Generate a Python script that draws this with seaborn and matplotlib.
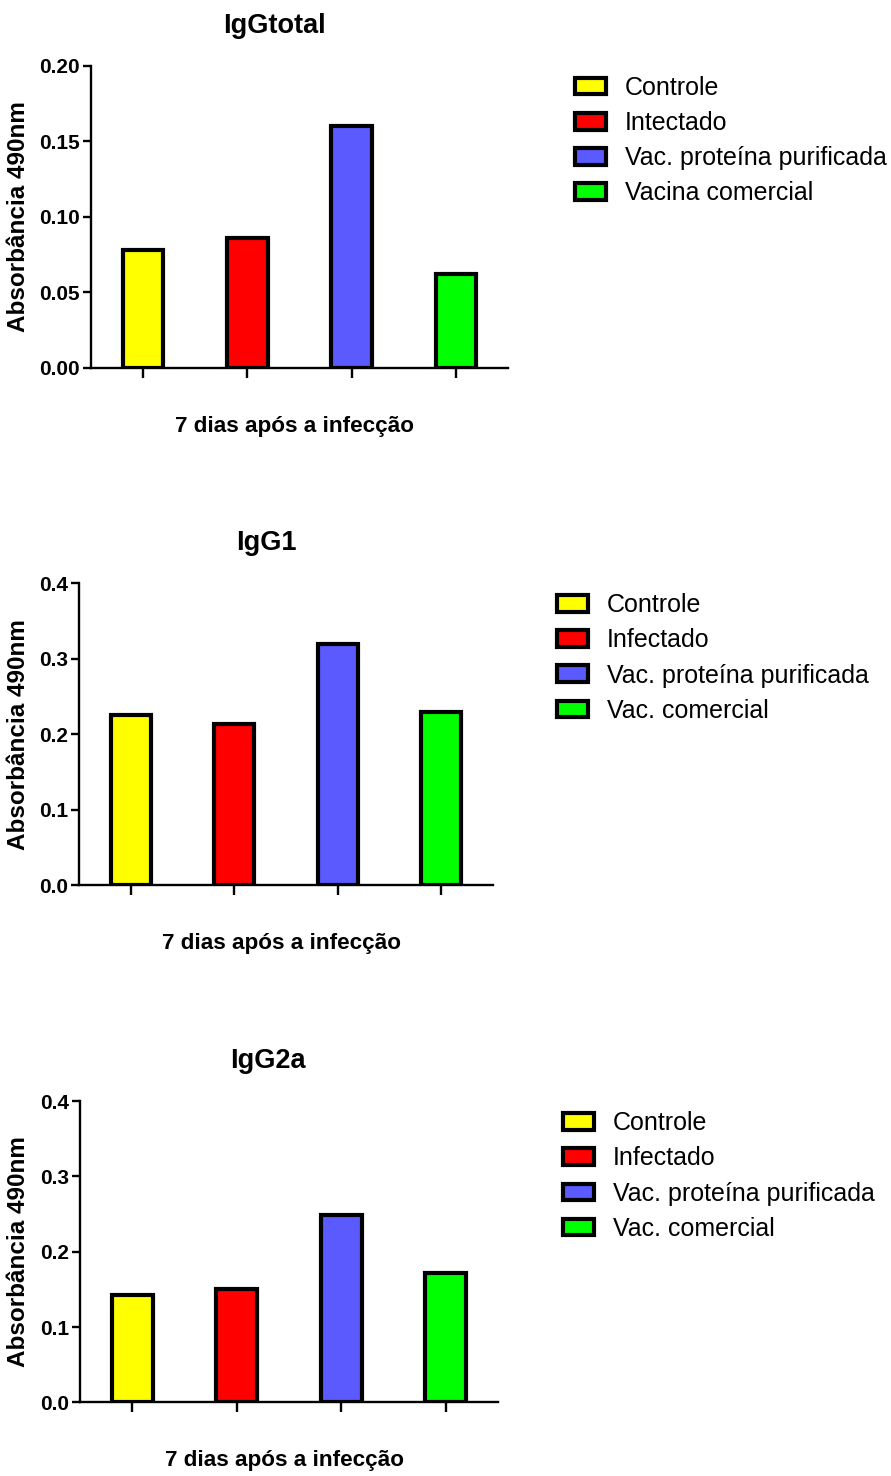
import matplotlib
matplotlib.use("Agg")
import matplotlib.pyplot as plt
from matplotlib.patches import Patch
from matplotlib.ticker import FormatStrFormatter
import pandas as pd
import seaborn as sns

# ---------------------------------------------------------------------------
# Dados
# ---------------------------------------------------------------------------
GRUPOS = ["Controle", "Infectado", "Vac. proteína purificada", "Vac. comercial"]
CORES = ["#FFFF00", "#FF0000", "#5A5AFF", "#00FF00"]

IGG_TOTAL = [0.078, 0.086, 0.160, 0.062]
IGG1 = [0.225, 0.214, 0.320, 0.229]
IGG2A = [0.142, 0.150, 0.249, 0.172]

LEG_IGG_TOTAL = ["Controle", "Intectado", "Vac. proteína purificada", "Vacina comercial"]
LEG_IGG = ["Controle", "Infectado", "Vac. proteína purificada", "Vac. comercial"]

TITULOS = ["IgGtotal", "IgG1", "IgG2a"]
YTICKS_TOTAL = [0.00, 0.05, 0.10, 0.15, 0.20]
YTICKS_SUB = [0.0, 0.1, 0.2, 0.3, 0.4]

# ---------------------------------------------------------------------------
# Estilo
# ---------------------------------------------------------------------------
sns.set_style("ticks")
plt.rcParams["font.family"] = ["Liberation Sans", "DejaVu Sans"]
plt.rcParams["text.color"] = "black"
plt.rcParams["axes.labelcolor"] = "black"
plt.rcParams["xtick.color"] = "black"
plt.rcParams["ytick.color"] = "black"

fig = plt.figure(figsize=(8.91, 14.76), dpi=100)

# posição dos eixos [left, bottom, width, height] e ajustes de texto por painel
paineis = [
    dict(vals=IGG_TOTAL, leg=LEG_IGG_TOTAL, yticks=YTICKS_TOTAL, fmt="%.2f",
         rect=[0.1021, 0.7507, 0.468, 0.2046], tx=0.439, ylx=-0.146,
         leg_xy=(0.645, 0.9487)),
    dict(vals=IGG1, leg=LEG_IGG, yticks=YTICKS_SUB, fmt="%.1f",
         rect=[0.0887, 0.4002, 0.4646, 0.2046], tx=0.452, ylx=-0.118,
         leg_xy=(0.625, 0.5982)),
    dict(vals=IGG2A, leg=LEG_IGG, yticks=YTICKS_SUB, fmt="%.1f",
         rect=[0.0898, 0.0499, 0.469, 0.2041], tx=0.450, ylx=-0.120,
         leg_xy=(0.632, 0.2472)),
]

for titulo, p in zip(TITULOS, paineis):
    ax = fig.add_axes(p["rect"])
    df = pd.DataFrame({"grupo": GRUPOS, "absorbancia": p["vals"]})
    sns.barplot(
        data=df, x="grupo", y="absorbancia", hue="grupo", palette=CORES,
        saturation=1, width=0.39, edgecolor="black", linewidth=3,
        legend=False, ax=ax,
    )
    ax.set_xlim(-0.5, 3.5)
    ax.set_ylim(p["yticks"][0], p["yticks"][-1])
    ax.set_yticks(p["yticks"])
    ax.yaxis.set_major_formatter(FormatStrFormatter(p["fmt"]))
    ax.set_xticks(range(len(GRUPOS)))
    ax.tick_params(axis="x", labelbottom=False, length=7, width=1.7, color="black")
    ax.tick_params(axis="y", length=6, width=1.7, pad=2, labelsize=15, color="black")
    for lab in ax.get_yticklabels():
        lab.set_fontweight("bold")
    sns.despine(ax=ax)
    for s in ["left", "bottom"]:
        ax.spines[s].set_linewidth(1.7)
        ax.spines[s].set_color("black")

    ax.set_title(titulo, fontsize=19.5, fontweight="bold", x=p["tx"], pad=24)
    ax.set_xlabel("7 dias após a infecção", fontsize=16.2, fontweight="bold")
    ax.xaxis.set_label_coords(0.489, -0.159)
    ax.set_ylabel("Absorbância 490nm", fontsize=17.5, fontweight="bold")
    ax.yaxis.set_label_coords(p["ylx"], 0.5)

    handles = [Patch(facecolor=c, edgecolor="black", linewidth=3) for c in CORES]
    fig.legend(
        handles, p["leg"], loc="upper left", bbox_to_anchor=p["leg_xy"],
        frameon=False, fontsize=18, handlelength=1.25, handleheight=0.65,
        handletextpad=0.75, labelspacing=0.45, borderpad=0, borderaxespad=0,
    )

fig.savefig("out.png", dpi=100)
